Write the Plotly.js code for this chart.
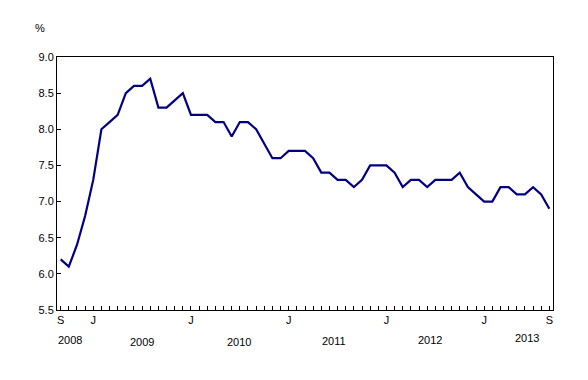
<!DOCTYPE html>
<html>
<head>
<meta charset="utf-8">
<script src="https://cdn.plot.ly/plotly-3.0.1.min.js"></script>
<style>html,body{margin:0;padding:0;background:#fff;}#chart{width:588px;height:380px;}</style>
</head>
<body>
<div id="chart"></div>
<script>
// Monthly values, September 2008 to September 2013 (%)
const months = ["2008-09","2008-10","2008-11","2008-12",
"2009-01","2009-02","2009-03","2009-04","2009-05","2009-06","2009-07","2009-08","2009-09","2009-10","2009-11","2009-12",
"2010-01","2010-02","2010-03","2010-04","2010-05","2010-06","2010-07","2010-08","2010-09","2010-10","2010-11","2010-12",
"2011-01","2011-02","2011-03","2011-04","2011-05","2011-06","2011-07","2011-08","2011-09","2011-10","2011-11","2011-12",
"2012-01","2012-02","2012-03","2012-04","2012-05","2012-06","2012-07","2012-08","2012-09","2012-10","2012-11","2012-12",
"2013-01","2013-02","2013-03","2013-04","2013-05","2013-06","2013-07","2013-08","2013-09"];
const values = [6.2,6.1,6.4,6.8,
7.3,8.0,8.1,8.2,8.5,8.6,8.6,8.7,8.3,8.3,8.4,8.5,
8.2,8.2,8.2,8.1,8.1,7.9,8.1,8.1,8.0,7.8,7.6,7.6,
7.7,7.7,7.7,7.6,7.4,7.4,7.3,7.3,7.2,7.3,7.5,7.5,
7.5,7.4,7.2,7.3,7.3,7.2,7.3,7.3,7.3,7.4,7.2,7.1,
7.0,7.0,7.2,7.2,7.1,7.1,7.2,7.1,6.9];
const monthLetters = {"2008-09":"S","2009-01":"J","2010-01":"J","2011-01":"J","2012-01":"J","2013-01":"J","2013-09":"S"};
const yearLabels = ["2008","2009","2010","2011","2012","2013"];
const yearLabelPos = [1.15, 9.95, 21.9, 33.5, 45.4, 57.3];
const yearLabelY = [-0.119, -0.126, -0.128, -0.123, -0.119, -0.111];
const yTicks = [5.5,6.0,6.5,7.0,7.5,8.0,8.5,9.0];

const idx = months.map((m,i)=>i);
const tickText = months.map(m => monthLetters[m] || "");

const font = {family: "Liberation Sans, Arial, sans-serif", size: 11, color: "#000"};

const trace = {
  x: idx, y: values, type: "scatter", mode: "lines",
  line: {color: "#000080", width: 2.2}, hoverinfo: "skip"
};

const annotations = yearLabels.map((t,i)=>({
  text: t, x: yearLabelPos[i], xref: "x", y: yearLabelY[i], yref: "paper",
  showarrow: false, font: font, xanchor: "center", yanchor: "middle"
}));
annotations.push({text: "%", x: -0.035, xref: "paper", y: 1.115, yref: "paper",
  showarrow: false, font: font, xanchor: "center", yanchor: "middle"});

const layout = {
  width: 588, height: 380,
  margin: {l: 57, r: 35, t: 57, b: 70},
  paper_bgcolor: "#fff", plot_bgcolor: "#fff",
  showlegend: false,
  font: font,
  xaxis: {
    range: [-0.45, 60.45], tickmode: "array", tickvals: idx, ticktext: tickText,
    ticks: "inside", ticklen: 4, tickcolor: "#000", tickwidth: 1,
    showline: true, linecolor: "#000", linewidth: 1, mirror: true,
    showgrid: false, zeroline: false, tickangle: 0, tickfont: font
  },
  yaxis: {
    range: [5.5, 9.0], tickmode: "array", tickvals: yTicks,
    ticktext: yTicks.map(v=>v.toFixed(1)),
    ticks: "inside", ticklen: 4, tickcolor: "#000", tickwidth: 1,
    showline: true, linecolor: "#000", linewidth: 1, mirror: true,
    showgrid: false, zeroline: false, tickfont: font
  },
  annotations: annotations
};

Plotly.newPlot("chart", [trace], layout, {staticPlot: true, displayModeBar: false});
</script>
</body>
</html>
